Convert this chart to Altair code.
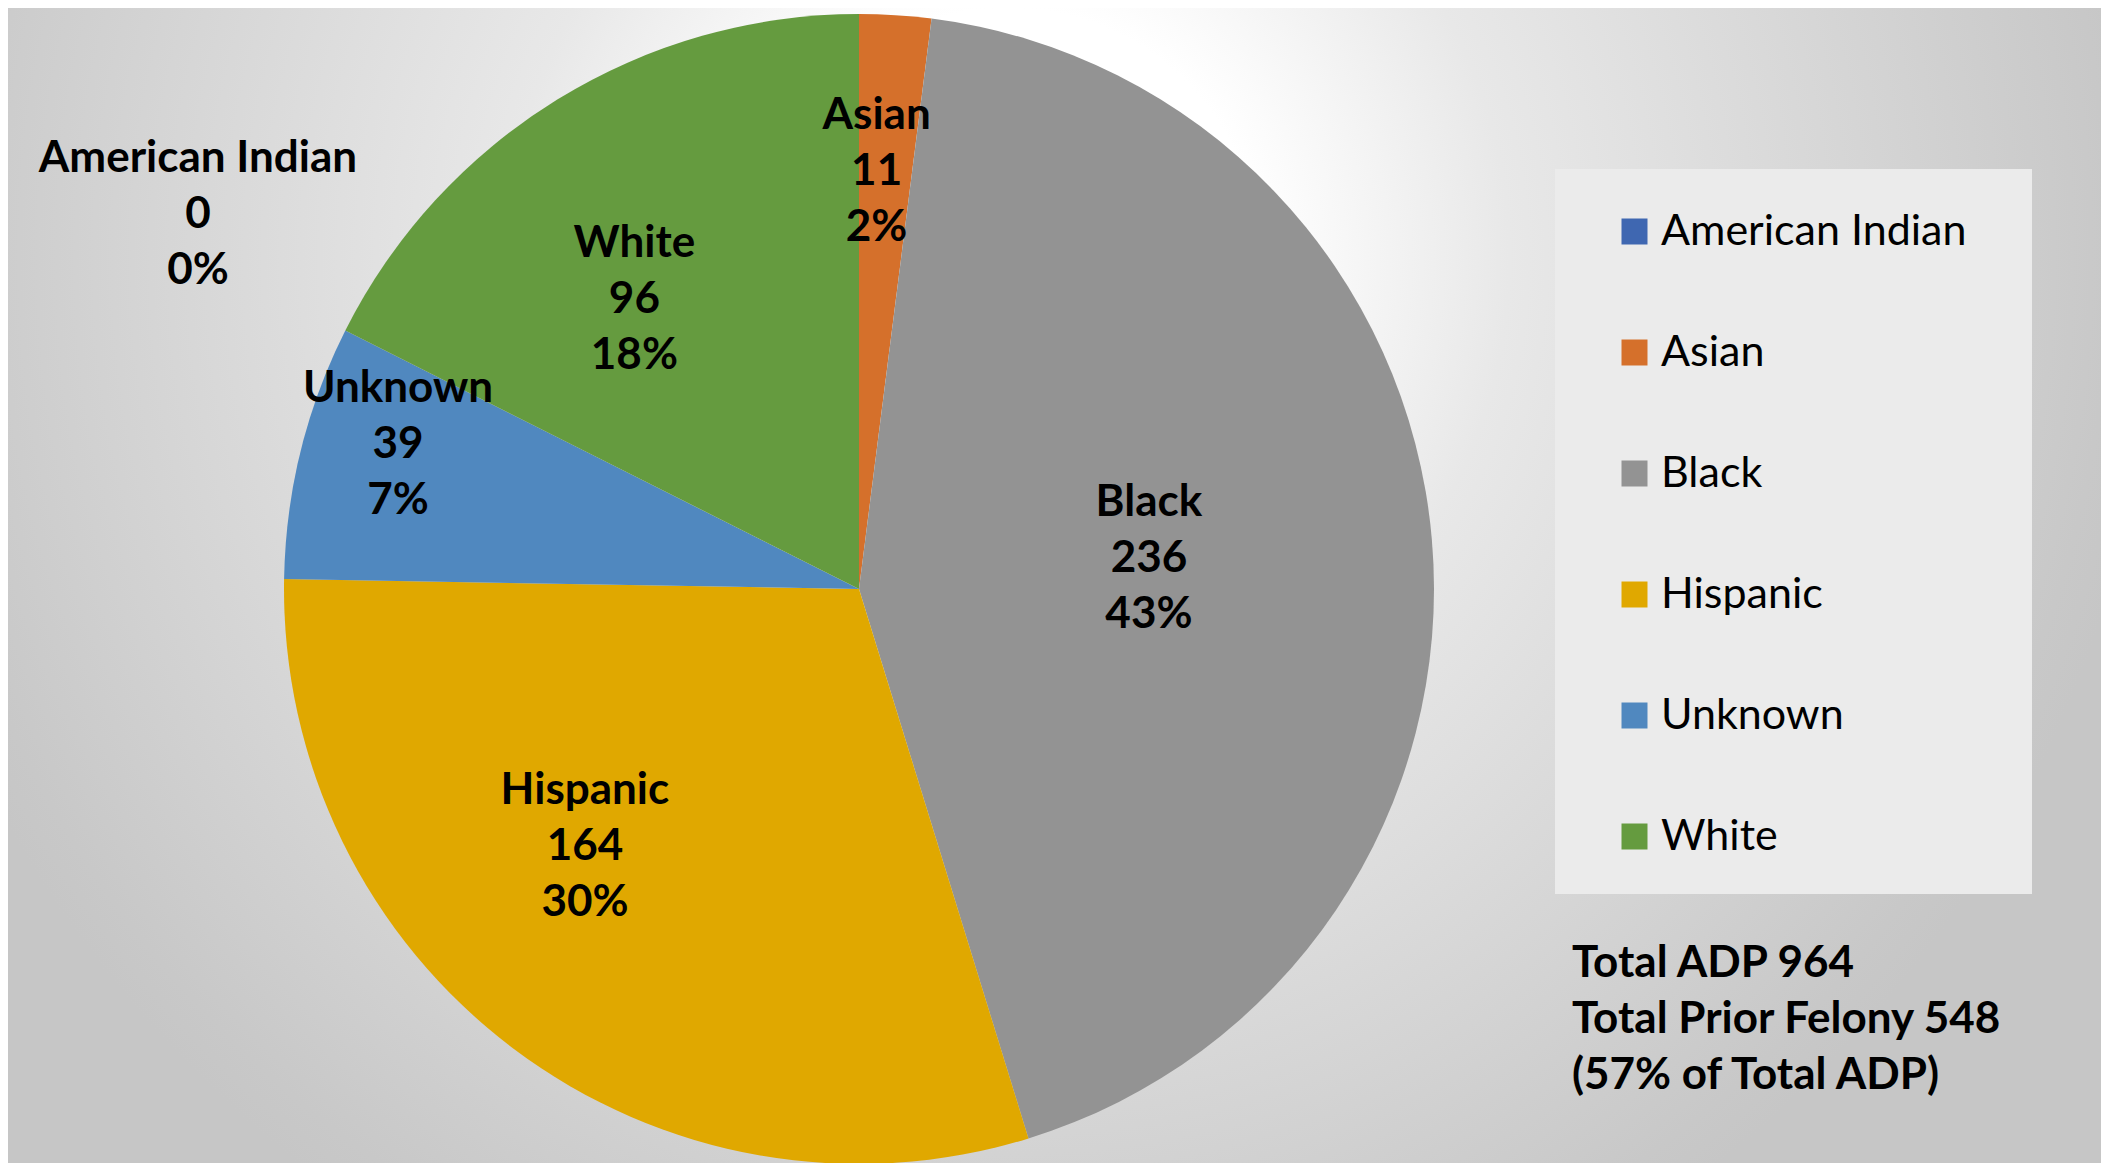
import altair as alt
import pandas as pd

# ---- data ----
categories = ["American Indian", "Asian", "Black", "Hispanic", "Unknown", "White"]
counts = [0, 11, 236, 164, 39, 96]
colors = ["#3F67B1", "#D5702B", "#939393", "#E0A800", "#5088BF", "#659B3F"]
note_lines = ["Total ADP 964", "Total Prior Felony 548", "(57% of Total ADP)"]

W, H = 2093, 1155
CX, CY, R = 851, 581, 575
FONT = "Lato"
LH = 56  # line height of the multi-line labels

# label placement (Excel "best fit"): radius from centre plus nudges
label_pos = {
    "American Indian": (0, -661, -378),
    "Asian": (421, -9, -1),
    "Black": (292, -1, -9),
    "Hispanic": (373, -50, -44),
    "Unknown": (484, 9, -32),
    "White": (369, -31, 21),
}

total = sum(counts)
df = pd.DataFrame({"idx": list(range(len(categories))), "category": categories, "count": counts})

theta_scale = alt.Scale(domain=[0, total], range=[0, 6.283185307179586])
color_scale = alt.Scale(domain=categories, range=colors)

base = (
    alt.Chart(df)
    .transform_window(cum_end="sum(count)", sort=[alt.SortField("idx")])
    .transform_calculate(
        cum_start="datum.cum_end - datum.count",
        mid="datum.cum_end - datum.count / 2",
        label="datum.category + '\\n' + datum.count + '\\n' + format(datum.count / %d, '.0%%')" % total,
    )
)

bg = alt.Chart(alt.Data(values=[{"a": 1}])).mark_rect(
    fill=alt.RadialGradient(
        gradient="radial",
        x1=0.478, y1=0.3435, r1=0,
        x2=0.478, y2=0.3435, r2=0.55,
        stops=[
            alt.GradientStop(offset=0, color="#ffffff"),
            alt.GradientStop(offset=0.217, color="#ffffff"),
            alt.GradientStop(offset=0.435, color="#e8e8e8"),
            alt.GradientStop(offset=0.696, color="#d8d8d8"),
            alt.GradientStop(offset=0.957, color="#c8c8c8"),
            alt.GradientStop(offset=1, color="#c6c6c6"),
        ],
    )
).encode(x=alt.value(0), x2=alt.value("width"), y=alt.value(0), y2=alt.value("height"))

legend_box = alt.Chart(alt.Data(values=[{"a": 1}])).mark_rect(fill="#ebebeb").encode(
    x=alt.value(1547), x2=alt.value(2024), y=alt.value(161), y2=alt.value(886)
)

arcs = base.mark_arc(outerRadius=R).encode(
    theta=alt.Theta("cum_start:Q", scale=theta_scale, stack=False),
    theta2="cum_end:Q",
    color=alt.Color(
        "category:N",
        scale=color_scale,
        legend=alt.Legend(
            title=None,
            orient="none",
            legendX=1605,
            legendY=202,
            symbolType="square",
            symbolSize=676,
            symbolStrokeWidth=0,
            symbolOpacity=1,
            labelFont=FONT,
            labelFontSize=43,
            labelColor="#000000",
            labelOffset=5,
            labelLimit=600,
            rowPadding=77,
            padding=0,
        ),
    ),
    x=alt.value(CX),
    y=alt.value(CY),
)

texts = []
for cat in categories:
    r, dx, dy = label_pos[cat]
    texts.append(
        base.transform_filter(alt.datum.category == cat)
        .mark_text(
            font=FONT, fontSize=44, fontWeight="bold", color="#000000",
            lineBreak="\n", lineHeight=LH, align="center", baseline="middle",
            dx=dx, dy=dy - LH + 4,
        )
        .encode(
            theta=alt.Theta("mid:Q", scale=theta_scale, stack=False),
            radius=alt.value(r),
            text="label:N",
            x=alt.value(CX),
            y=alt.value(CY),
        )
    )

note = alt.Chart(alt.Data(values=[{"t": "\n".join(note_lines)}])).mark_text(
    font=FONT, fontSize=44, fontWeight="bold", color="#000000",
    lineBreak="\n", lineHeight=LH, align="left", baseline="middle",
).encode(x=alt.value(1564), y=alt.value(1008 - LH + 4), text="t:N")

chart = (
    alt.layer(bg, legend_box, arcs, *texts, note)
    .properties(width=W, height=H, padding=0, autosize=alt.AutoSizeParams(type="none"))
    .configure(background="#ffffff")
    .configure_view(strokeWidth=0)
)

chart.save("out.html", embed_options={"renderer": "svg", "actions": False})
